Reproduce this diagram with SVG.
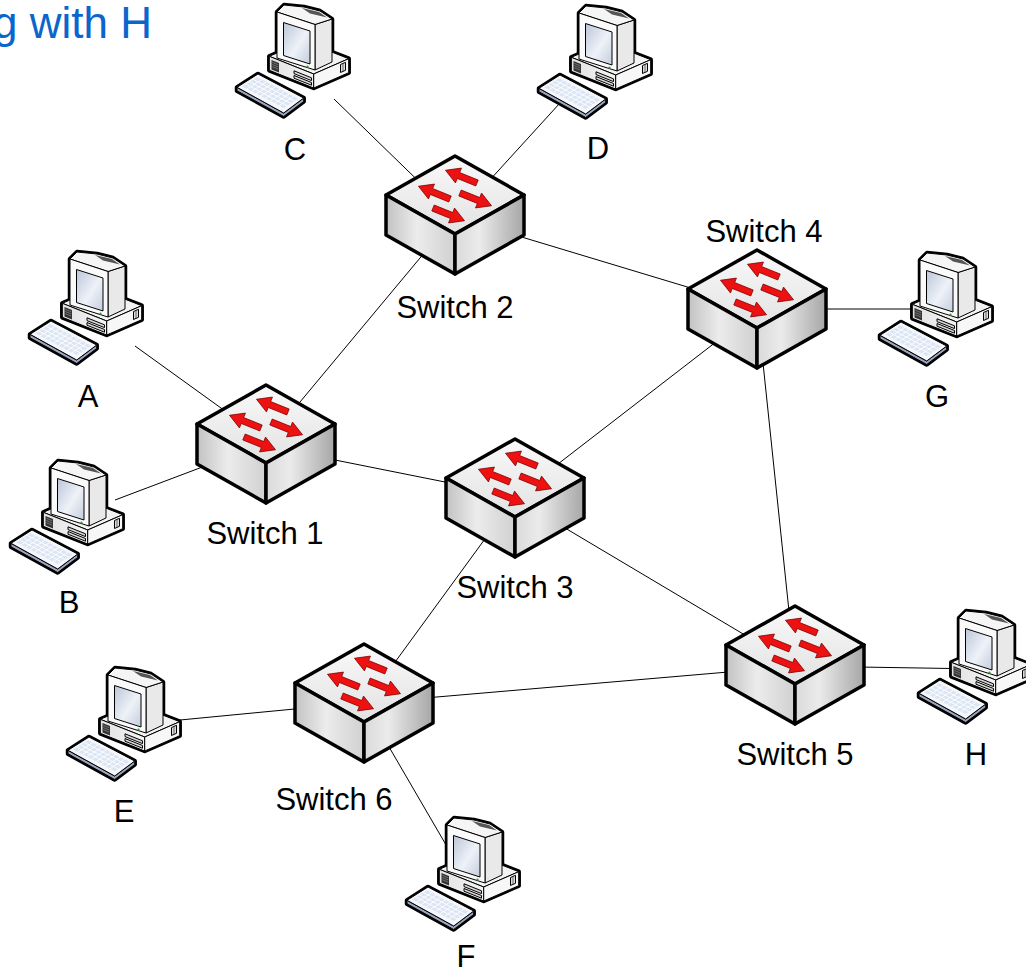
<svg xmlns="http://www.w3.org/2000/svg" width="1026" height="974" viewBox="0 0 1026 974">
<style>
  .lbl { font-family: "Liberation Sans", Arial, sans-serif; font-size: 31px; fill: #000; text-anchor: middle; }
  .title { font-family: "Liberation Sans", Arial, sans-serif; font-size: 44px; fill: #0a66cc; text-anchor: end; }
  .conn line { stroke: #000; stroke-width: 1; fill: none; }
  .swf { stroke: #000; stroke-width: 3.5; stroke-linejoin: round; }
  .arr { fill: #ee1111; stroke: #7a0000; stroke-width: 0.7; stroke-linejoin: round; }
  .hull { fill: #000; stroke: #000; stroke-width: 4.5; stroke-linejoin: round; }
  .pf { stroke: #000; stroke-width: 1; stroke-linejoin: round; }
</style>
<defs>
  <linearGradient id="swTop" x1="0" y1="0" x2="0" y2="1">
    <stop offset="0" stop-color="#f9f9f9"/><stop offset="1" stop-color="#e2e2e2"/>
  </linearGradient>
  <linearGradient id="swL" x1="0" y1="0" x2="1" y2="0">
    <stop offset="0" stop-color="#c2c2c2"/><stop offset="0.45" stop-color="#ececec"/><stop offset="1" stop-color="#d0d0d0"/>
  </linearGradient>
  <linearGradient id="swR" x1="0" y1="0" x2="1" y2="0">
    <stop offset="0" stop-color="#dadada"/><stop offset="0.35" stop-color="#ebebeb"/><stop offset="1" stop-color="#a6a6a6"/>
  </linearGradient>
  <linearGradient id="scr" x1="0" y1="0" x2="1" y2="1">
    <stop offset="0" stop-color="#bcc6d8"/><stop offset="0.55" stop-color="#eef2f8"/><stop offset="1" stop-color="#c4cddd"/>
  </linearGradient>
  <linearGradient id="baseF" x1="0" y1="0" x2="1" y2="0">
    <stop offset="0" stop-color="#e2e2e2"/><stop offset="1" stop-color="#f4f4f4"/>
  </linearGradient>
  <polygon id="arr" class="arr" points="0,-3.2 20,-3.2 20,-8 34,0 20,8 20,3.2 0,3.2"/>
  <g id="sw">
    <polygon class="swf" fill="url(#swTop)" points="0,0 69,39 0,78 -69,39"/>
    <polygon class="swf" fill="url(#swL)" points="-69,39 0,78 0,118 -69,79"/>
    <polygon class="swf" fill="url(#swR)" points="0,78 69,39 69,79 0,118"/>
    <use href="#arr" transform="translate(22,27) rotate(202)"/>
    <use href="#arr" transform="translate(-5,43) rotate(202)"/>
    <use href="#arr" transform="translate(5,37) rotate(22)"/>
    <use href="#arr" transform="translate(-22,52) rotate(22)"/>
  </g>
  <g id="pc">
    <polygon class="hull" points="26,76 71.7,100 71.7,103.5 51.7,118.5 5,92.8 5,89.3"/>
    <polygon class="hull" points="37.3,58.3 72.3,43.3 116.7,60.7 116.7,74.7 81.7,90 37.3,72.3"/>
    <polygon class="hull" points="45,14 52,7 72,9 88,13 100,21 100,64 83,72 45,60"/>
    <polygon class="pf" fill="#9aa6bf" points="5,89.3 51.7,115 71.7,100 71.7,103.5 51.7,118.5 5,92.8"/>
    <polygon class="pf" fill="#f5f7fb" points="26,76 71.7,100 51.7,115 5,89.3"/>
    <polygon fill="#dce5f4" points="25.1,79.2 66.3,100.8 51.6,110.1 10.4,88.5"/>
    <g stroke="#ffffff" stroke-width="0.9">
      <line x1="21.5" y1="81.5" x2="62.6" y2="103.1"/>
      <line x1="17.8" y1="83.9" x2="58.9" y2="105.5"/>
      <line x1="14.1" y1="86.2" x2="55.2" y2="107.8"/>
      <line x1="29.7" y1="81.6" x2="15" y2="90.9"/>
      <line x1="34.3" y1="84" x2="19.6" y2="93.3"/>
      <line x1="38.8" y1="86.4" x2="24.1" y2="95.7"/>
      <line x1="43.4" y1="88.8" x2="28.7" y2="98.1"/>
      <line x1="48" y1="91.2" x2="33.3" y2="100.5"/>
      <line x1="52.6" y1="93.6" x2="37.9" y2="102.9"/>
      <line x1="57.1" y1="96" x2="42.4" y2="105.3"/>
      <line x1="61.7" y1="98.4" x2="47" y2="107.7"/>
    </g>
    <polygon class="pf" fill="#f3f3f3" points="37.3,58.3 72.3,43.3 116.7,60.7 81.7,76"/>
    <polygon class="pf" fill="url(#baseF)" points="37.3,58.3 81.7,76 81.7,90 37.3,72.3"/>
    <polygon class="pf" fill="#f7f7f7" points="81.7,76 116.7,60.7 116.7,74.7 81.7,90"/>
    <polygon fill="#333" points="39.5,62 47,65 47,74.5 39.5,71.5"/>
    <g stroke="#9a9a9a" stroke-width="0.6">
      <line x1="40.3" y1="64.3" x2="46.2" y2="66.7"/>
      <line x1="40.3" y1="66.5" x2="46.2" y2="68.9"/>
      <line x1="40.3" y1="68.7" x2="46.2" y2="71.1"/>
    </g>
    <polygon class="pf" fill="#d8d8d8" stroke-width="0.8" points="62,72.8 79.5,79.8 79.5,82.6 62,75.6"/>
    <polygon class="pf" fill="#d8d8d8" stroke-width="0.8" points="62,77.5 79.5,84.5 79.5,87.2 62,80.2"/>
    <polygon class="pf" fill="#dddddd" stroke-width="0.7" points="108.5,66.5 113.5,64.3 113.5,72.3 108.5,74.5"/>
    <line x1="111" y1="65.4" x2="111" y2="73.4" stroke="#333" stroke-width="0.7"/>
    <polygon class="pf" fill="#e9e9e9" points="83,26.5 100,21 100,64 83,72"/>
    <polygon class="pf" fill="#f5f5f5" points="45,14 52,7 72,9 88,13 100,21 83,26.5"/>
    <polygon fill="#555" points="70,10 87,14 95,19.5 78,15.5"/>
    <polygon class="pf" fill="#fafafa" stroke-width="1.5" points="45,14 83,26.5 83,72 45,60"/>
    <polygon class="pf" fill="url(#scr)" stroke-width="1.5" points="51.5,24.5 78,33 78,66 51.5,57.5"/>
    <circle cx="75.5" cy="68.7" r="1.1" fill="#2f9a2f"/>
  </g>
</defs>

<text class="title" x="152" y="38">g with H</text>

<g id="connectors" class="conn">
  <line x1="334" y1="99" x2="440" y2="202"/>
  <line x1="560" y1="103" x2="488" y2="182"/>
  <line x1="510" y1="233.5" x2="700" y2="290.8"/>
  <line x1="430" y1="246" x2="295" y2="408"/>
  <line x1="135" y1="346" x2="230" y2="414.5"/>
  <line x1="115" y1="500" x2="205" y2="466"/>
  <line x1="330" y1="459" x2="460" y2="485"/>
  <line x1="545" y1="474" x2="725" y2="335"/>
  <line x1="820" y1="309" x2="914" y2="309"/>
  <line x1="762.7" y1="360" x2="789.4" y2="615"/>
  <line x1="560" y1="525" x2="760" y2="644"/>
  <line x1="490" y1="532" x2="390" y2="669"/>
  <line x1="425" y1="698" x2="740" y2="671"/>
  <line x1="180" y1="720" x2="305" y2="708"/>
  <line x1="385" y1="740" x2="449" y2="850"/>
  <line x1="858" y1="667" x2="952" y2="668.5"/>
</g>

<g id="switch1"><use href="#sw" x="266" y="385"/><text class="lbl" x="265" y="544">Switch 1</text></g>
<g id="switch2"><use href="#sw" x="455" y="156"/><text class="lbl" x="455" y="318">Switch 2</text></g>
<g id="switch3"><use href="#sw" x="515" y="439"/><text class="lbl" x="515" y="598">Switch 3</text></g>
<g id="switch4"><use href="#sw" x="757" y="250"/><text class="lbl" x="764" y="242">Switch 4</text></g>
<g id="switch5"><use href="#sw" x="795" y="606"/><text class="lbl" x="795" y="765">Switch 5</text></g>
<g id="switch6"><use href="#sw" x="364" y="644"/><text class="lbl" x="334" y="810">Switch 6</text></g>

<g id="pcA"><use href="#pc" x="25" y="245"/><text class="lbl" x="88" y="407">A</text></g>
<g id="pcB"><use href="#pc" x="6" y="454"/><text class="lbl" x="69" y="613">B</text></g>
<g id="pcC"><use href="#pc" x="232" y="-2"/><text class="lbl" x="295" y="160">C</text></g>
<g id="pcD"><use href="#pc" x="534" y="-1"/><text class="lbl" x="598" y="159">D</text></g>
<g id="pcE"><use href="#pc" x="63" y="661"/><text class="lbl" x="124" y="822">E</text></g>
<g id="pcF"><use href="#pc" x="402" y="811"/><text class="lbl" x="466" y="967">F</text></g>
<g id="pcG"><use href="#pc" x="875" y="246"/><text class="lbl" x="937" y="407">G</text></g>
<g id="pcH"><use href="#pc" x="914" y="604"/><text class="lbl" x="976" y="765">H</text></g>
</svg>
